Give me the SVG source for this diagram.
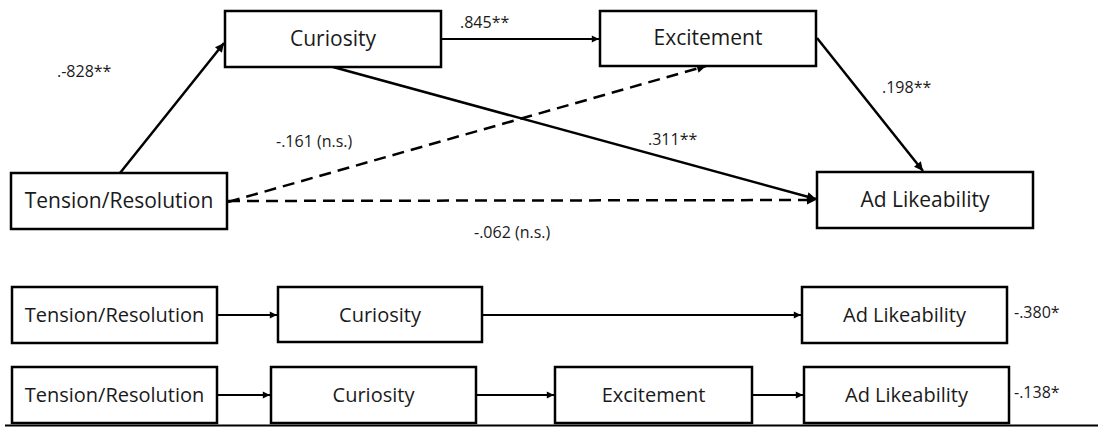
<svg xmlns="http://www.w3.org/2000/svg" width="1098" height="428" viewBox="0 0 1098 428">
  <style>
    .box { fill: #ffffff; stroke: #000000; stroke-width: 2.5; }
    .lbl { font-family: "Open Sans", "Liberation Sans", sans-serif; font-size: 21px; fill: #1a1a1a; text-anchor: middle; }
    .lbl2 { font-family: "Open Sans", "Liberation Sans", sans-serif; font-size: 20px; fill: #1a1a1a; text-anchor: middle; }
    .coef { font-family: "Open Sans", "Liberation Sans", sans-serif; font-size: 16px; fill: #1a1a1a; }
    .solid { fill: none; stroke: #000000; stroke-width: 2.5; marker-end: url(#head); }
    .thin { fill: none; stroke: #000000; stroke-width: 2; marker-end: url(#head); }
    .dash { fill: none; stroke: #000000; stroke-width: 2.5; stroke-dasharray: 12 7; marker-end: url(#head); }
  </style>
  <defs>
    <marker id="head" viewBox="0 0 10 10" refX="10" refY="5" markerWidth="4" markerHeight="3.6" orient="auto" markerUnits="strokeWidth">
      <path d="M0,0 L10,5 L0,10 z" fill="#000000"/>
    </marker>
  </defs>

  <!-- full mediation model -->
  <g id="connectors">
    <path class="solid" d="M120,173 L224,43"/>
    <path class="thin" d="M441,39 L599,39"/>
    <path class="solid" d="M817,38 L923,171"/>
    <path class="solid" d="M333,67 L816,199"/>
    <path class="dash" d="M228,202 L706,66"/>
    <path class="dash" d="M228,201 L816,200"/>
    <!-- serial chains -->
    <path class="thin" d="M217,315 L277,315"/>
    <path class="thin" d="M482,315 L801,315"/>
    <path class="thin" d="M217,395 L270,395"/>
    <path class="thin" d="M476,395 L554,395"/>
    <path class="thin" d="M752,395 L803,395"/>
  </g>

  <g id="coefficients">
    <text class="coef" x="57" y="77">.-828**</text>
    <text class="coef" x="460" y="28">.845**</text>
    <text class="coef" x="882" y="93">.198**</text>
    <text class="coef" x="276" y="147">-.161 (n.s.)</text>
    <text class="coef" x="648" y="145">.311**</text>
    <text class="coef" x="474" y="238">-.062 (n.s.)</text>
    <text class="coef" x="1014" y="318">-.380*</text>
    <text class="coef" x="1014" y="398">-.138*</text>
  </g>

  <g id="tension">
    <rect class="box" x="11" y="173" width="216" height="56"/>
    <text class="lbl" x="119" y="208">Tension/Resolution</text>
  </g>
  <g id="curiosity">
    <rect class="box" x="225" y="11" width="216" height="56"/>
    <text class="lbl" x="333" y="46">Curiosity</text>
  </g>
  <g id="excitement">
    <rect class="box" x="600" y="11" width="216" height="55"/>
    <text class="lbl" x="708" y="45">Excitement</text>
  </g>
  <g id="likeability">
    <rect class="box" x="817" y="172" width="216" height="56"/>
    <text class="lbl" x="925" y="207">Ad Likeability</text>
  </g>

  <!-- chain 1 -->
  <g id="tension-2">
    <rect class="box" x="12" y="287" width="205" height="56"/>
    <text class="lbl2" x="114.5" y="322">Tension/Resolution</text>
  </g>
  <g id="curiosity-2">
    <rect class="box" x="278" y="287" width="204" height="55"/>
    <text class="lbl2" x="380" y="322">Curiosity</text>
  </g>
  <g id="likeability-2">
    <rect class="box" x="802" y="287" width="205" height="56"/>
    <text class="lbl2" x="904.5" y="322">Ad Likeability</text>
  </g>

  <!-- chain 2 -->
  <g id="tension-3">
    <rect class="box" x="12" y="367" width="205" height="56"/>
    <text class="lbl2" x="114.5" y="402">Tension/Resolution</text>
  </g>
  <g id="curiosity-3">
    <rect class="box" x="271" y="367" width="205" height="56"/>
    <text class="lbl2" x="373.5" y="402">Curiosity</text>
  </g>
  <g id="excitement-3">
    <rect class="box" x="555" y="367" width="197" height="56"/>
    <text class="lbl2" x="653.5" y="402">Excitement</text>
  </g>
  <g id="likeability-3">
    <rect class="box" x="804" y="367" width="205" height="56"/>
    <text class="lbl2" x="906.5" y="402">Ad Likeability</text>
  </g>

  <line x1="5" y1="425.5" x2="1098" y2="425.5" stroke="#000000" stroke-width="2"/>
</svg>
